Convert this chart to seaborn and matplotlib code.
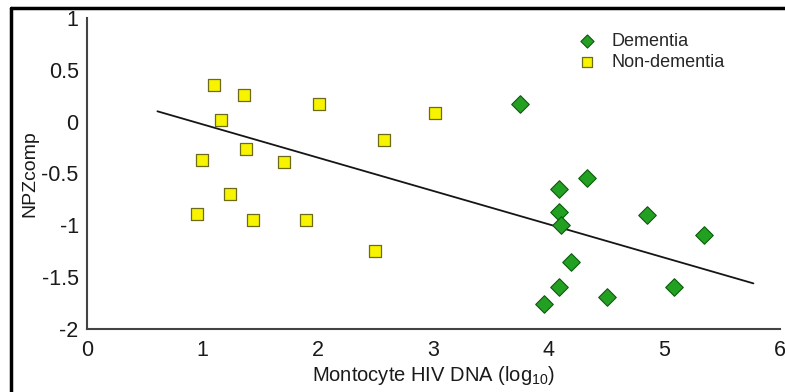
import numpy as np
import pandas as pd
import matplotlib.pyplot as plt
import seaborn as sns
from matplotlib.lines import Line2D

# values
dementia_x = [3.75, 4.33, 4.09, 4.09, 4.10, 4.85, 5.34, 4.19, 4.09, 5.08, 4.50, 3.96]
dementia_y = [0.17, -0.54, -0.65, -0.87, -1.00, -0.90, -1.09, -1.35, -1.59, -1.59, -1.69, -1.76]

nondem_x = [1.10, 1.36, 1.16, 2.01, 3.01, 2.57, 1.38, 1.00, 1.71, 1.24, 0.95, 1.44, 1.90, 2.49]
nondem_y = [0.35, 0.26, 0.02, 0.17, 0.08, -0.18, -0.26, -0.37, -0.39, -0.70, -0.89, -0.95, -0.95, -1.25]

fit_x = [0.61, 5.77]
fit_y = [0.10, -1.56]

x_ticks = [0, 1, 2, 3, 4, 5, 6]
y_ticks = [-2, -1.5, -1, -0.5, 0, 0.5, 1]
y_tick_labels = ['-2', '-1.5', '-1', '-0.5', '0', '0.5', '1']

sns.set_style('white')
plt.rcParams['font.family'] = ['Liberation Sans', 'DejaVu Sans']
plt.rcParams['mathtext.fontset'] = 'custom'
plt.rcParams['mathtext.rm'] = 'Liberation Sans'
plt.rcParams['mathtext.it'] = 'Liberation Sans'
plt.rcParams['axes.unicode_minus'] = False

fig = plt.figure(figsize=(7.85, 3.92), dpi=100)
ax = fig.add_axes([0.1108, 0.1607, 0.8828, 0.7934])

sns.lineplot(x=fit_x, y=fit_y, color='#151515', linewidth=1.3, ax=ax)

sns.scatterplot(x=dementia_x, y=dementia_y, marker='D', s=80, color='#22a022',
                edgecolor='#0e5a0e', linewidth=0.8, label='Dementia', ax=ax, zorder=3)
sns.scatterplot(x=nondem_x, y=nondem_y, marker='s', s=85, color='#f7f400',
                edgecolor='#6d6a18', linewidth=0.9, label='Non-dementia', ax=ax, zorder=3)

ax.set_xlim(0, 6)
ax.set_ylim(-2, 1)
ax.set_xticks(x_ticks)
ax.set_yticks(y_ticks)
ax.set_yticklabels(y_tick_labels)
ax.tick_params(axis='both', direction='inout', length=6, width=1.2, colors='#333333',
               labelsize=15.5, labelcolor='#1a1a1a')
ax.tick_params(axis='y', pad=3)
ax.tick_params(axis='x', pad=5)

for side in ['top', 'right']:
    ax.spines[side].set_visible(False)
for side in ['left', 'bottom']:
    ax.spines[side].set_color('#444444')
    ax.spines[side].set_linewidth(1.5)

ax.set_xlabel('Montocyte HIV DNA (log$_{10}$)', fontsize=14.5, color='#1a1a1a', labelpad=2)
ax.set_ylabel('NPZcomp', fontsize=14, color='#1a1a1a', labelpad=2)

ax.legend(loc='upper left', bbox_to_anchor=(0.685, 0.975), frameon=False,
          fontsize=13, markerscale=0.75, handletextpad=0.35, labelspacing=0.2,
          borderaxespad=0)

# black frame at top and left edges of the picture
fig.add_artist(Line2D([0.014, 1.0], [0.98, 0.98], color='black', linewidth=2.5,
                      transform=fig.transFigure))
fig.add_artist(Line2D([0.014, 0.014], [0.0, 0.98], color='black', linewidth=2.5,
                      transform=fig.transFigure))

plt.savefig('out.png', dpi=100)
